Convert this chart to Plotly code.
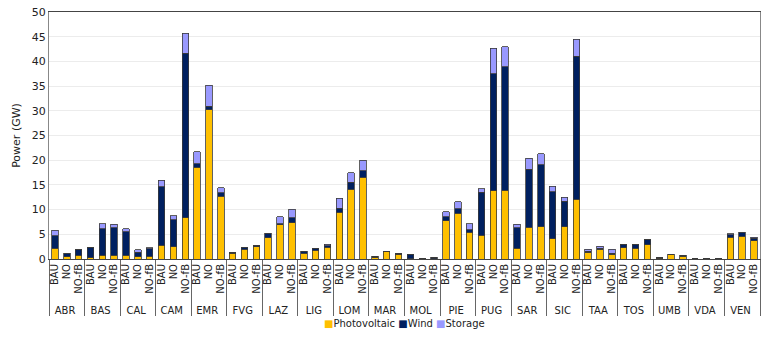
import plotly.graph_objects as go

regions = ["ABR", "BAS", "CAL", "CAM", "EMR", "FVG", "LAZ", "LIG", "LOM", "MAR", "MOL",
           "PIE", "PUG", "SAR", "SIC", "TAA", "TOS", "UMB", "VDA", "VEN"]
scenarios = ["BAU", "NO", "NO-fB"]

# Installed capacity (GW) per region, ordered BAU, NO, NO-fB
photovoltaic = [
    2.2, 0.5, 0.75,
    0.3, 0.8, 0.8,
    0.8, 0.5, 0.6,
    2.8, 2.5, 8.4,
    18.6, 30.2, 12.7,
    1.2, 2.0, 2.5,
    4.3, 6.95, 7.3,
    1.2, 1.8, 2.4,
    9.45, 14.1, 16.5,
    0.4, 1.5, 1.0,
    0.05, 0.05, 0.05,
    7.7, 9.25, 5.4,
    4.8, 13.8, 13.9,
    2.2, 6.4, 6.5,
    4.05, 6.5, 12.1,
    1.35, 2.0, 0.95,
    2.3, 2.2, 2.9,
    0.2, 0.9, 0.6,
    0.02, 0.02, 0.03,
    4.4, 4.6, 3.7,
]
wind = [
    2.5, 0.6, 1.15,
    2.1, 5.3, 5.5,
    4.7, 0.9, 1.5,
    11.8, 5.4, 33.3,
    0.7, 0.7, 0.7,
    0.2, 0.3, 0.3,
    0.8, 0.2, 1.1,
    0.35, 0.4, 0.3,
    0.85, 1.4, 1.4,
    0.2, 0.05, 0.15,
    0.95, 0.15, 0.3,
    0.9, 0.95, 0.5,
    8.7, 23.7, 25.0,
    4.1, 11.8, 12.6,
    9.55, 5.2, 28.9,
    0.2, 0.2, 0.2,
    0.65, 0.7, 0.95,
    0.2, 0.05, 0.2,
    0.03, 0.03, 0.07,
    0.5, 0.7, 0.5,
]
storage = [
    1.1, 0.1, 0.0,
    0.0, 1.0, 0.7,
    0.6, 0.5, 0.2,
    1.3, 0.9, 4.0,
    2.4, 4.3, 1.0,
    0.0, 0.0, 0.0,
    0.1, 1.45, 1.7,
    0.0, 0.0, 0.3,
    2.0, 2.0, 2.1,
    0.0, 0.0, 0.0,
    0.0, 0.0, 0.0,
    1.0, 1.4, 1.2,
    0.7, 5.2, 4.1,
    0.7, 2.2, 2.2,
    1.1, 0.85, 3.5,
    0.45, 0.35, 0.8,
    0.05, 0.0, 0.05,
    0.0, 0.0, 0.0,
    0.0, 0.0, 0.0,
    0.2, 0.15, 0.2,
]

x_regions = [r for r in regions for _ in scenarios]
x_scen = [s for _ in regions for s in scenarios]

series = [
    ("Photovoltaic", photovoltaic, "#FFC000"),
    ("Wind", wind, "#002060"),
    ("Storage", storage, "#9999FF"),
]

fig = go.Figure()
for name, vals, col in series:
    fig.add_trace(go.Bar(
        name=name,
        x=[x_regions, x_scen],
        y=vals,
        marker=dict(color=col, line=dict(color="#3a3a3a", width=0.8)),
        showlegend=False,
    ))

# Compact legend row beneath the axis
legend_text = "&nbsp;".join(
    f"<span style='color:{col}'>■</span>{name}" for name, _, col in series
)
fig.add_annotation(
    text=legend_text, xref="paper", yref="paper", x=0.5, y=-0.263,
    xanchor="center", yanchor="middle", showarrow=False,
    font=dict(size=10, color="#222"),
)

fig.update_layout(
    barmode="stack",
    bargap=0.45,
    width=773, height=340,
    margin=dict(l=49, r=13, t=12, b=81),
    paper_bgcolor="white",
    plot_bgcolor="white",
    font=dict(family="DejaVu Sans", size=10, color="#222"),
    xaxis=dict(
        type="multicategory",
        tickangle=-90,
        tickmode="linear", dtick=1,
        showline=True, linecolor="#444", linewidth=1, mirror=True,
        showdividers=True, dividercolor="#666", dividerwidth=1,
        ticks="", tickfont=dict(size=10),
        automargin=False,
    ),
    yaxis=dict(
        range=[0, 50], dtick=5,
        showgrid=True, gridcolor="#ececec", gridwidth=1,
        showline=True, linecolor="#888", linewidth=1, mirror=True,
        ticks="", tickfont=dict(size=11),
        title=dict(text="Power (GW)", font=dict(size=11), standoff=8),
        zeroline=False,
        automargin=False,
    ),
)

fig.write_html("out.html")
